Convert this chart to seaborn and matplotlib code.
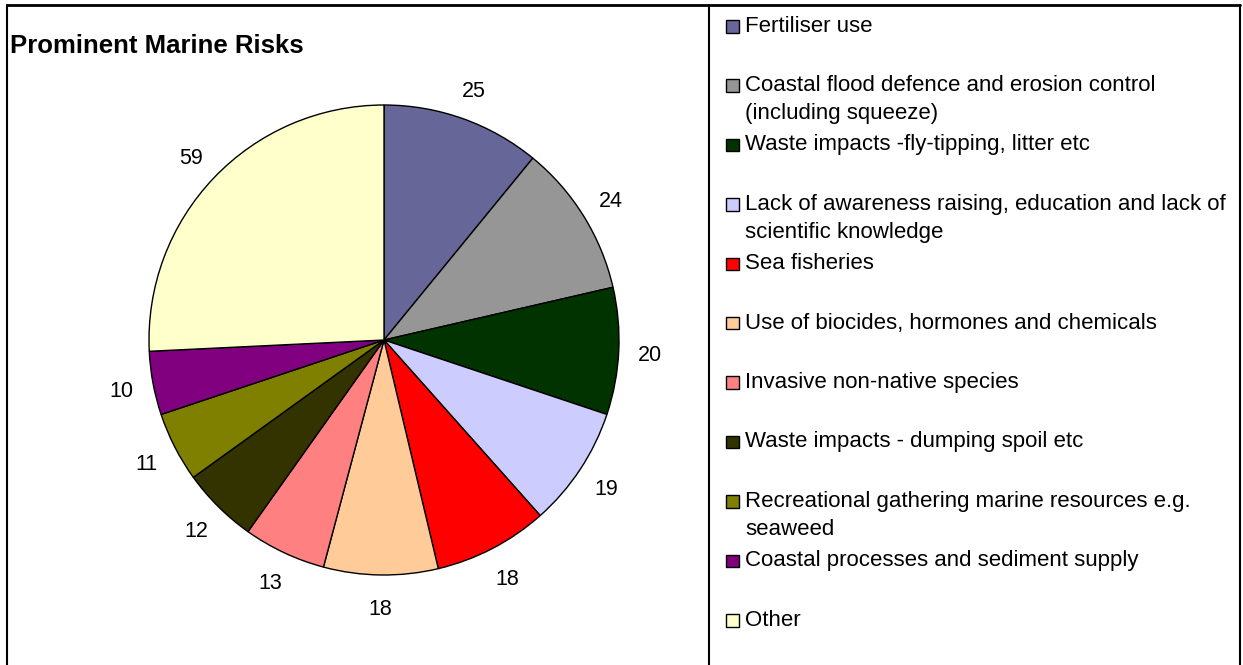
import matplotlib
matplotlib.use("Agg")
import numpy as np
import matplotlib.pyplot as plt
import seaborn as sns
from matplotlib.patches import Rectangle
from matplotlib.lines import Line2D

sns.set_style("white")
plt.rcParams['font.family'] = ['Liberation Sans', 'DejaVu Sans']
plt.rcParams['text.color'] = 'black'

# data
categories = [
    "Fertiliser use",
    "Coastal flood defence and erosion control\n(including squeeze)",
    "Waste impacts -fly-tipping, litter etc",
    "Lack of awareness raising, education and lack of\nscientific knowledge",
    "Sea fisheries",
    "Use of biocides, hormones and chemicals",
    "Invasive non-native species",
    "Waste impacts - dumping spoil etc",
    "Recreational gathering marine resources e.g.\nseaweed",
    "Coastal processes and sediment supply",
    "Other",
]
counts = [25, 24, 20, 19, 18, 18, 13, 12, 11, 10, 59]
colours = ["#666699", "#969696", "#003300", "#CCCCFF", "#FF0000", "#FFCC99",
           "#FF8080", "#333300", "#808000", "#800080", "#FFFFCC"]
title = "Prominent Marine Risks"

W, H = 1243, 665
fig = plt.figure(figsize=(W / 100, H / 100), dpi=100)

# pie, centre at (384, 340) px, radius 235 px
cx, cy, r = 384, 340, 235
ax = fig.add_axes([(cx - r) / W, 1 - (cy + r) / H, 2 * r / W, 2 * r / H])
wedges, texts = ax.pie(counts, colors=colours, startangle=90, counterclock=False,
                       labels=[str(c) for c in counts], labeldistance=1.135,
                       wedgeprops=dict(edgecolor="black", linewidth=1.0),
                       textprops=dict(fontsize=15.5, color="black"))
for t in texts:
    # excel centres the data labels on the radial line
    t.set_ha("center")
    t.set_va("center_baseline")
    t.set_clip_on(False)
ax.set_xlim(-1, 1)
ax.set_ylim(-1, 1)
ax.set_axis_off()

# title
fig.text(10 / W, 1 - 46 / H, title, fontsize=18.5, fontweight="bold",
         ha="left", va="center")

# outer frame and legend frame
fig.add_artist(Line2D([7 / W, 1240 / W], [1 - 5 / H, 1 - 5 / H],
                      transform=fig.transFigure, color="black", lw=2))
for xl in [7, 709, 1240]:
    fig.add_artist(Line2D([xl / W, xl / W], [1 - 5 / H, 0],
                          transform=fig.transFigure, color="black", lw=1.5))

# legend drawn by hand to keep the Excel-like spacing
y0, step, line_h = 26, 59.4, 28
for i, (lab, col) in enumerate(zip(categories, colours)):
    yc = y0 + step * i
    fig.add_artist(Rectangle((726 / W, 1 - (yc + 6.5) / H), 12.5 / W, 12.5 / H,
                             transform=fig.transFigure, facecolor=col,
                             edgecolor="black", lw=1.0))
    for k, part in enumerate(lab.split("\n")):
        fig.text(745 / W, 1 - (yc + k * line_h) / H, part, fontsize=16,
                 ha="left", va="center")

fig.savefig("out.png", dpi=100)
